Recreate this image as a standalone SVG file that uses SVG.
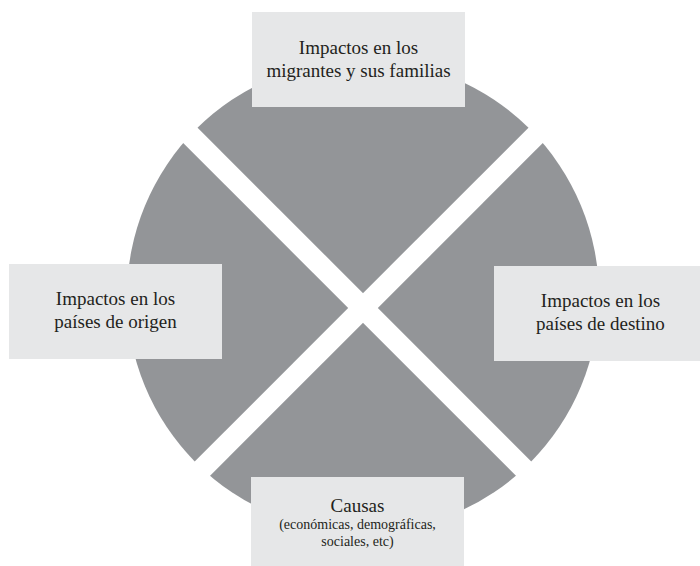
<svg xmlns="http://www.w3.org/2000/svg" width="700" height="566" viewBox="0 0 700 566">
<style>
.box{fill:#e6e7e8}
.t{font-family:"Liberation Serif","Times New Roman",serif;fill:#231f20;text-anchor:middle}
.big{font-size:19px}
.small{font-size:14px}
.band{stroke:#ffffff;stroke-width:21;fill:none}
</style>
<rect width="700" height="566" fill="#ffffff"/>
<g id="wheel">
<circle cx="363" cy="296" r="236" fill="#939598"/>
<line class="band" x1="63" y1="8" x2="663" y2="608"/>
<line class="band" x1="663" y1="8" x2="63" y2="608"/>
</g>
<g id="node-top">
<rect class="box" x="252" y="12" width="213" height="95"/>
<text class="t big" x="358.5" y="54">Impactos en los</text>
<text class="t big" x="358.5" y="77">migrantes y sus familias</text>
</g>
<g id="node-left">
<rect class="box" x="9" y="264" width="213" height="95"/>
<text class="t big" x="115.5" y="305">Impactos en los</text>
<text class="t big" x="115.5" y="328">países de origen</text>
</g>
<g id="node-right">
<rect class="box" x="494" y="266" width="213" height="95"/>
<text class="t big" x="600.5" y="307">Impactos en los</text>
<text class="t big" x="600.5" y="330">países de destino</text>
</g>
<g id="node-bottom">
<rect class="box" x="251" y="477" width="213" height="95"/>
<text class="t big" x="357.5" y="512">Causas</text>
<text class="t small" x="357.5" y="529">(económicas, demográficas,</text>
<text class="t small" x="357.5" y="546">sociales, etc)</text>
</g>
</svg>
